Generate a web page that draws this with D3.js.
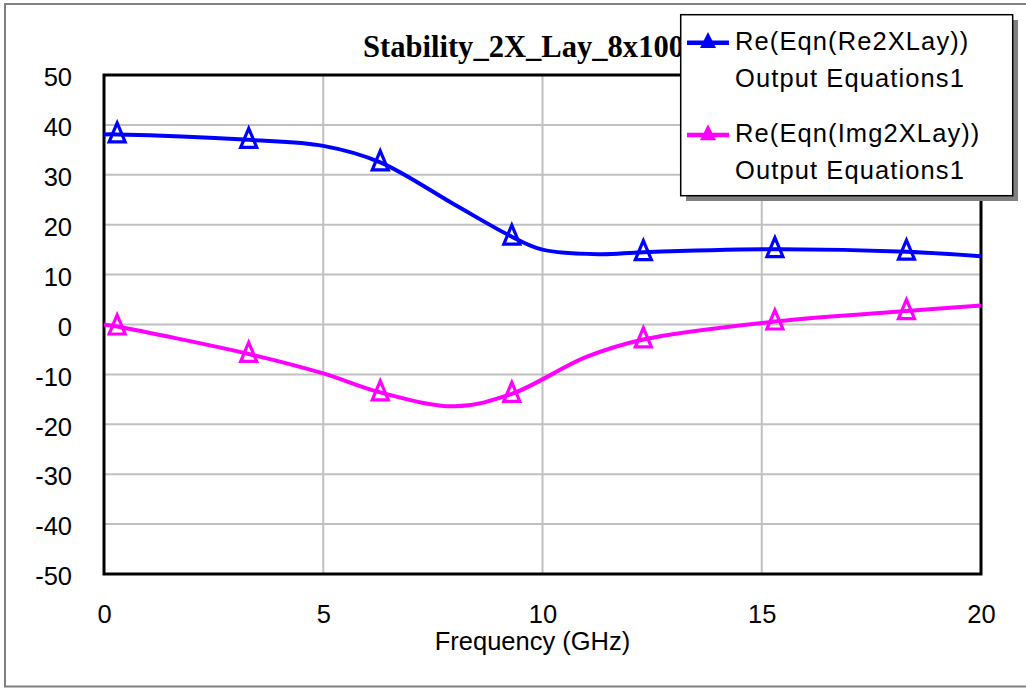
<!DOCTYPE html>
<html>
<head>
<meta charset="utf-8">
<script src="https://cdn.jsdelivr.net/npm/d3@7"></script>
<style>
  html, body { margin: 0; padding: 0; background: #fff; }
  svg { display: block; }
  text { fill: #000; }
</style>
</head>
<body>
<svg id="chart" width="1026" height="688"></svg>
<script>
// Re(Eqn(Re2XLay)) trace: frequency (GHz) and value
const freqRe = [0, 0.3, 3.3, 5, 6.3, 8, 9.3, 10, 11.3, 12.3, 15.3, 18.3, 20];
const valsRe = [38.1, 38.1, 37.0, 35.8, 32.5, 24.0, 17.6, 15.0, 14.1, 14.5, 15.1, 14.6, 13.7];

// Re(Eqn(Img2XLay)) trace
const freqImg = [0, 0.3, 3.3, 5, 6.3, 8, 9.3, 11, 12.3, 15.3, 18.3, 20];
const valsImg = [0, -0.4, -5.9, -9.8, -13.6, -16.4, -13.9, -6.5, -3.0, 0.6, 2.7, 3.8];

// frequencies carrying a triangle marker
const markerFreqs = [0.3, 3.3, 6.3, 9.3, 12.3, 15.3, 18.3];

const xTicks = [0, 5, 10, 15, 20];
const yTicks = [-50, -40, -30, -20, -10, 0, 10, 20, 30, 40, 50];

const seriesNames = ["Re(Eqn(Re2XLay))", "Re(Eqn(Img2XLay))"];
const seriesSub = "Output Equations1";
const seriesColors = ["#0000ff", "#ff00ff"];
const titleText = "Stability_2X_Lay_8x100";
const xLabel = "Frequency (GHz)";

const series = [
  { name: seriesNames[0], color: seriesColors[0], pts: freqRe.map((f, i) => ({ f, v: valsRe[i] })) },
  { name: seriesNames[1], color: seriesColors[1], pts: freqImg.map((f, i) => ({ f, v: valsImg[i] })) }
];

const SANS = "'Liberation Sans', Arial, sans-serif";
const SERIF = "'Liberation Serif', 'Times New Roman', serif";
const plainNum = d => String(d);

const svg = d3.select("#chart");
const plot = { left: 104, right: 981, top: 75, bottom: 574 };

const x = d3.scaleLinear().domain([0, 20]).range([plot.left, plot.right]);
const y = d3.scaleLinear().domain([-50, 50]).range([plot.bottom, plot.top]);

// outer frame
svg.append("rect")
  .attr("x", 5).attr("y", 4).attr("width", 1040).attr("height", 682.5)
  .attr("fill", "none").attr("stroke", "#808080").attr("stroke-width", 2);

// grid
const grid = svg.append("g");
grid.selectAll("line.gx").data(xTicks.slice(1, -1)).join("line")
  .attr("x1", d => x(d)).attr("x2", d => x(d))
  .attr("y1", plot.top).attr("y2", plot.bottom)
  .attr("stroke", "#c0c0c0").attr("stroke-width", 2);
grid.selectAll("line.gy").data(yTicks.slice(1, -1)).join("line")
  .attr("x1", plot.left).attr("x2", plot.right)
  .attr("y1", d => y(d)).attr("y2", d => y(d))
  .attr("stroke", "#c0c0c0").attr("stroke-width", 2);

// axes (labels only; frame drawn separately)
const yAxis = svg.append("g")
  .attr("transform", `translate(${plot.left},0)`)
  .call(d3.axisLeft(y).tickValues(yTicks).tickSize(0).tickPadding(32).tickFormat(plainNum));
yAxis.select(".domain").remove();
yAxis.selectAll("text")
  .style("font-family", SANS).style("font-size", "25.5px")
  .attr("dy", "0.42em").attr("fill", "#000");

const xAxis = svg.append("g")
  .attr("transform", `translate(0,${plot.bottom})`)
  .call(d3.axisBottom(x).tickValues(xTicks).tickSize(0).tickPadding(31).tickFormat(plainNum));
xAxis.select(".domain").remove();
xAxis.selectAll("text")
  .style("font-family", SANS).style("font-size", "25.5px").attr("fill", "#000");

// plot frame
svg.append("rect")
  .attr("x", plot.left).attr("y", plot.top)
  .attr("width", plot.right - plot.left).attr("height", plot.bottom - plot.top)
  .attr("fill", "none").attr("stroke", "#000").attr("stroke-width", 3);

// x axis title
svg.append("text")
  .attr("x", (plot.left + plot.right) / 2 - 10).attr("y", 650)
  .attr("text-anchor", "middle")
  .style("font-family", SANS).style("font-size", "25.5px")
  .text(xLabel);

// chart title
svg.append("text")
  .attr("x", 363).attr("y", 57)
  .style("font-family", SERIF).style("font-weight", "bold").style("font-size", "32px")
  .attr("textLength", 321).attr("lengthAdjust", "spacingAndGlyphs")
  .text(titleText);

// traces
const line = d3.line().x(d => x(d.f)).y(d => y(d.v)).curve(d3.curveCatmullRom.alpha(0.5));
const tri = "M0,-11.5 L8,7.5 L-8,7.5 Z";

series.forEach(s => {
  const g = svg.append("g");
  g.append("path").datum(s.pts)
    .attr("d", line).attr("fill", "none")
    .attr("stroke", s.color).attr("stroke-width", 4);
  const marks = s.pts.filter(p => markerFreqs.includes(p.f));
  g.selectAll("path.m").data(marks).join("path")
    .attr("class", "m")
    .attr("transform", d => `translate(${x(d.f)},${y(d.v)})`)
    .attr("d", tri).attr("fill", "none")
    .attr("stroke", s.color).attr("stroke-width", 3.2)
    .attr("stroke-linejoin", "miter");
});

// legend
const lg = svg.append("g");
lg.append("rect").attr("x", 686).attr("y", 20).attr("width", 332).attr("height", 181).attr("fill", "#808080");
lg.append("rect").attr("x", 680.7).attr("y", 14.7).attr("width", 332).attr("height", 181)
  .attr("fill", "#fff").attr("stroke", "#000").attr("stroke-width", 1.5);

const legendRows = [0, 92.3];
series.forEach((s, i) => {
  const oy = legendRows[i];
  lg.append("line").attr("x1", 687).attr("x2", 729)
    .attr("y1", 42.7 + oy).attr("y2", 42.7 + oy)
    .attr("stroke", s.color).attr("stroke-width", 4.5);
  lg.append("path").attr("transform", `translate(708,${42 + oy})`)
    .attr("d", "M0,-10 L8,6 L-8,6 Z").attr("fill", s.color);
  lg.append("text").attr("x", 735).attr("y", 50 + oy)
    .style("font-family", SANS).style("font-size", "25.5px")
    .attr("letter-spacing", "1.1px").text(s.name);
  lg.append("text").attr("x", 735).attr("y", 87 + oy)
    .style("font-family", SANS).style("font-size", "25.5px")
    .attr("letter-spacing", "1.1px").text(seriesSub);
});
</script>
</body>
</html>
